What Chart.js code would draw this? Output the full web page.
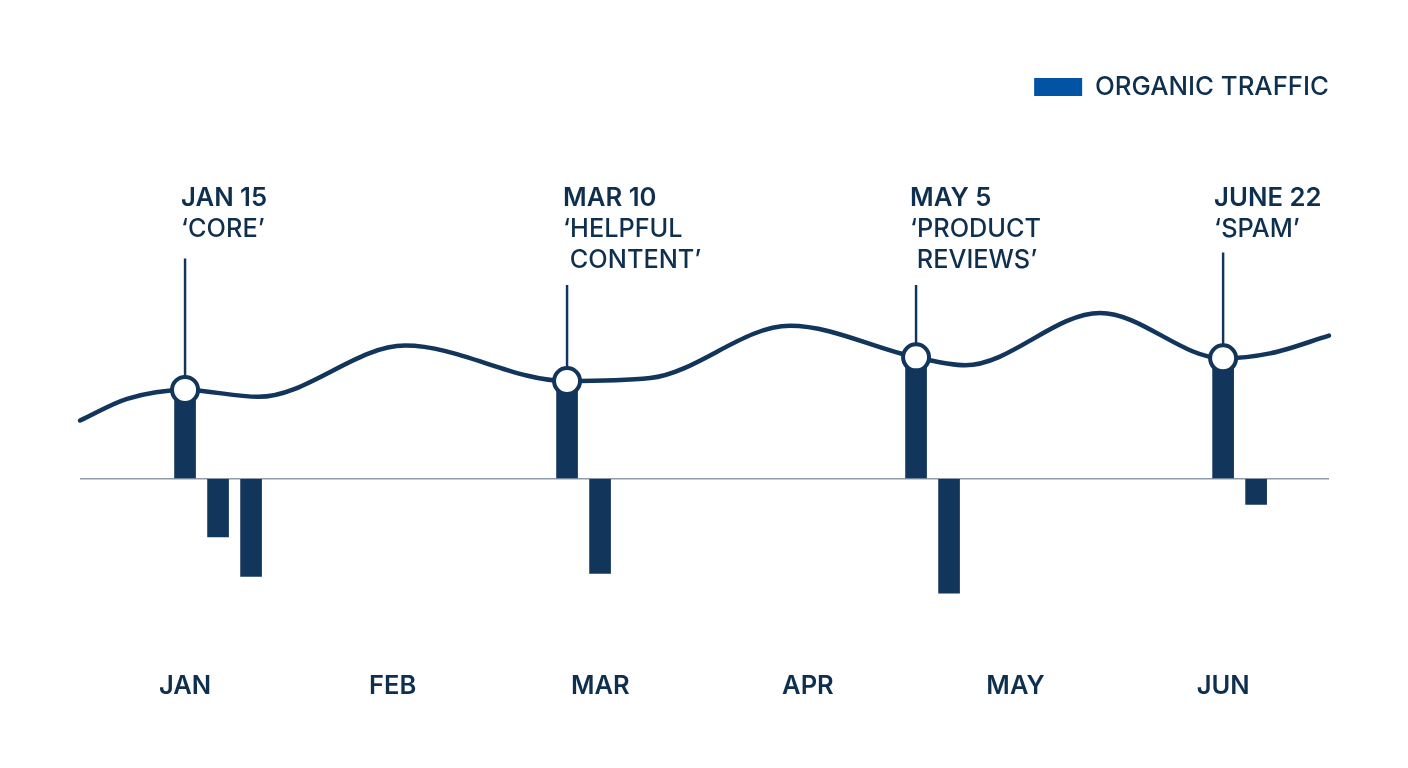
<!DOCTYPE html>
<html>
<head>
<meta charset="utf-8">
<title>Organic traffic</title>
<script src="https://cdn.jsdelivr.net/npm/chart.js@4"></script>
<style>
    html, body { margin: 0; padding: 0; background: #ffffff; }
    canvas { display: block; }
</style>
</head>
<body>
<canvas id="trafficChart" width="1408" height="768"></canvas>
<script>
const NAVY = '#12355b';
const TEXT = '#0f2f4f';
const LEGEND_BLUE = '#0353a4';

// x is in months, 0 = Jan
const months = ['JAN', 'FEB', 'MAR', 'APR', 'MAY', 'JUN'];

const trafficX = [-0.506, -0.279, 0, 0.352, 1.06, 1.84, 2.24, 2.914, 3.521, 3.757, 4.408, 5, 5.226, 5.51];
const trafficY = [59, 81, 90, 83, 135, 99, 102, 155, 123, 115, 168, 122, 127, 145];

const changeX = [0, 0.159, 0.318, 1.84, 1.999, 3.521, 3.68, 5, 5.159];
const changeY = [90, -59, -99, 99, -96, 123, -116, 122, -26];

const eventX = [0, 1.84, 3.521, 5];
const eventY = [90, 99, 123, 122];
const eventStemTop = [223, 196, 196, 229];
const eventDates = ['JAN 15', 'MAR 10', 'MAY 5', 'JUNE 22'];
const eventNames = [
    ['‘CORE’'],
    ['‘HELPFUL', ' CONTENT’'],
    ['‘PRODUCT', ' REVIEWS’'],
    ['‘SPAM’']
];

// notes sit a little left of their stem
const noteShift = [-4, -4, -6, -9];

const eventNotes = {
    id: 'eventNotes',
    afterDatasetsDraw(chart) {
        const ctx = chart.ctx;
        const x = chart.scales.x;
        ctx.save();
        ctx.fillStyle = TEXT;
        ctx.textBaseline = 'middle';
        ctx.textAlign = 'left';
        eventDates.forEach((date, i) => {
            const left = x.getPixelForValue(eventX[i]) + noteShift[i];
            ctx.font = '600 25.7px Inter';
            ctx.fillText(date, left, 198);
            ctx.font = '500 25.3px Inter';
            eventNames[i].forEach((line, j) => ctx.fillText(line, left, 229 + j * 31));
        });
        ctx.restore();
    }
};

new Chart(document.getElementById('trafficChart').getContext('2d'), {
    type: 'bar',
    data: {
        datasets: [
            {
                type: 'line',
                label: 'ORGANIC TRAFFIC',
                data: trafficX.map((x, i) => ({ x: x, y: trafficY[i] })),
                borderColor: NAVY,
                borderWidth: 4.5,
                borderCapStyle: 'round',
                pointRadius: 0,
                cubicInterpolationMode: 'monotone',
                clip: false,
                order: 2
            },
            {
                label: 'change',
                data: changeX.map((x, i) => ({ x: x, y: changeY[i] })),
                backgroundColor: NAVY,
                barThickness: 21,
                grouped: false,
                order: 3
            },
            {
                label: 'stems',
                data: eventX.map((x, i) => ({ x: x, y: [eventY[i], eventStemTop[i]] })),
                backgroundColor: NAVY,
                barThickness: 1.8,
                grouped: false,
                order: 4
            },
            {
                type: 'scatter',
                label: 'events',
                data: eventX.map((x, i) => ({ x: x, y: eventY[i] })),
                pointRadius: 13,
                pointBackgroundColor: '#ffffff',
                pointBorderColor: NAVY,
                pointBorderWidth: 4,
                order: 1
            }
        ]
    },
    options: {
        responsive: false,
        animation: false,
        events: [],
        layout: {
            padding: { top: 74, right: 79, bottom: 36, left: 80 }
        },
        scales: {
            x: {
                type: 'linear',
                min: -0.506,
                max: 5.51,
                offset: false,
                afterBuildTicks: scale => {
                    scale.ticks = months.map((m, i) => ({ value: i }));
                },
                grid: { display: false, drawTicks: false },
                border: { display: false },
                ticks: {
                    autoSkip: false,
                    maxRotation: 0,
                    padding: 30,
                    color: TEXT,
                    font: { family: 'Inter', size: 25.5, weight: '600' },
                    callback: value => months[value]
                }
            },
            y: {
                min: -165,
                max: 374,
                afterBuildTicks: scale => {
                    scale.ticks = [{ value: 0 }];
                },
                grid: { color: '#8f9bab', lineWidth: 1.5, drawTicks: false },
                border: { display: false },
                ticks: { display: false }
            }
        },
        plugins: {
            tooltip: { enabled: false },
            legend: {
                position: 'top',
                align: 'end',
                labels: {
                    boxWidth: 48,
                    boxHeight: 18,
                    padding: 0,
                    color: TEXT,
                    font: { family: 'Inter', size: 25.8, weight: '500' },
                    generateLabels: () => [{
                        text: 'ORGANIC TRAFFIC',
                        fillStyle: LEGEND_BLUE,
                        strokeStyle: LEGEND_BLUE,
                        lineWidth: 0,
                        fontColor: TEXT,
                        datasetIndex: 0
                    }]
                }
            }
        }
    },
    plugins: [eventNotes]
});
</script>
</body>
</html>
